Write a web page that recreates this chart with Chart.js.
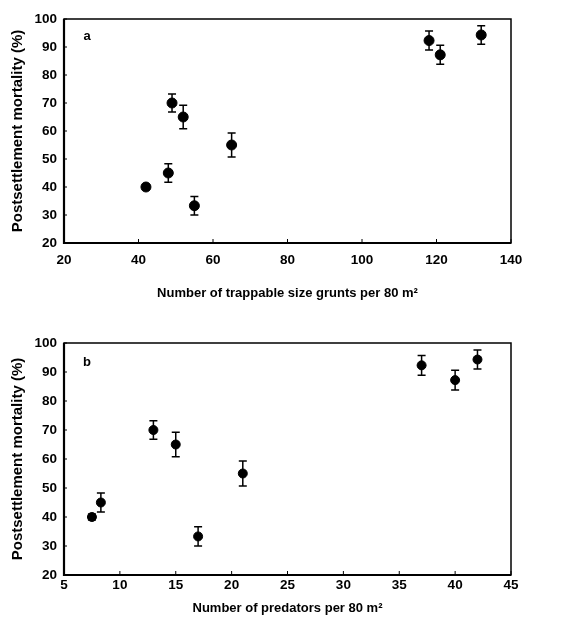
<!DOCTYPE html>
<html>
<head>
<meta charset="utf-8">
<script src="https://cdn.jsdelivr.net/npm/chart.js@4/dist/chart.umd.min.js"></script>
<style>
  html, body { margin: 0; padding: 0; background: #fff; }
  .panel { position: relative; width: 563px; }
  canvas { display: block; }
</style>
</head>
<body>
<div class="panel"><canvas id="chart-a" width="563" height="320"></canvas></div>
<div class="panel"><canvas id="chart-b" width="563" height="307"></canvas></div>
<script>
// Panel a: trappable size grunts
const gruntsX = [42, 48, 49, 52, 55, 65, 118, 121, 132];
// Panel b: predators
const predatorsX = [7.5, 8.3, 13, 15, 17, 21, 37, 40, 42];
// shared mortality values (%) and standard errors
const mortality = [40, 45, 70, 65, 33.3, 55, 92.3, 87.2, 94.3];
const mortalityErr = [1, 3.3, 3.2, 4.2, 3.3, 4.3, 3.4, 3.4, 3.3];

const yTitle = 'Postsettlement mortality (%)';
const titleA = 'Number of trappable size grunts per 80 m\u00B2';
const titleB = 'Number of predators per 80 m\u00B2';

const FONT = '"Liberation Sans", Arial, sans-serif';

// error bars, box frame, inner ticks and panel letter
const decorPlugin = {
  id: 'decor',
  beforeDatasetsDraw(chart) {
    const ctx = chart.ctx;
    const xs = chart.scales.x, ys = chart.scales.y;
    const errs = chart.options.plugins.decor.errors;
    const pts = chart.data.datasets[0].data;
    ctx.save();
    ctx.strokeStyle = '#000';
    ctx.lineWidth = 1.5;
    pts.forEach((p, i) => {
      const px = xs.getPixelForValue(p.x);
      const top = ys.getPixelForValue(p.y + errs[i]);
      const bot = ys.getPixelForValue(p.y - errs[i]);
      ctx.beginPath();
      ctx.moveTo(px, top); ctx.lineTo(px, bot);
      ctx.moveTo(px - 4, top); ctx.lineTo(px + 4, top);
      ctx.moveTo(px - 4, bot); ctx.lineTo(px + 4, bot);
      ctx.stroke();
    });
    ctx.restore();
  },
  afterDraw(chart) {
    const ctx = chart.ctx;
    const a = chart.chartArea;
    const xs = chart.scales.x, ys = chart.scales.y;
    ctx.save();
    ctx.strokeStyle = '#000';
    // inner ticks
    ctx.lineWidth = 1;
    ctx.beginPath();
    xs.ticks.forEach(t => {
      const px = xs.getPixelForValue(t.value);
      ctx.moveTo(px, a.bottom); ctx.lineTo(px, a.bottom - 4);
    });
    ys.ticks.forEach(t => {
      const py = ys.getPixelForValue(t.value);
      ctx.moveTo(a.left, py); ctx.lineTo(a.left + 3, py);
    });
    ctx.stroke();
    // frame
    ctx.lineWidth = 1.5;
    ctx.strokeRect(a.left, a.top, a.right - a.left, a.bottom - a.top);
    ctx.lineWidth = 2.2;
    ctx.beginPath();
    ctx.moveTo(a.left, a.top); ctx.lineTo(a.left, a.bottom); ctx.lineTo(a.right, a.bottom);
    ctx.stroke();
    // panel letter
    const opt = chart.options.plugins.decor;
    ctx.fillStyle = '#000';
    ctx.font = 'bold 13px ' + FONT;
    ctx.textAlign = 'center';
    ctx.textBaseline = 'middle';
    ctx.fillText(opt.letter, a.left + 23, a.top + opt.letterDy);
    ctx.restore();
  }
};

function makeChart(id, xVals, cfg) {
  const canvas = document.getElementById(id);
  const points = xVals.map((x, i) => ({ x: x, y: mortality[i] }));
  return new Chart(canvas, {
    type: 'scatter',
    data: {
      datasets: [{
        data: points,
        backgroundColor: '#000',
        borderColor: '#000',
        pointRadius: cfg.radius,
        pointHoverRadius: cfg.radius
      }]
    },
    options: {
      responsive: false,
      animation: false,
      devicePixelRatio: 1,
      layout: { padding: { top: cfg.top, right: 52, left: 0, bottom: 0 } },
      plugins: {
        legend: { display: false },
        tooltip: { enabled: false },
        decor: { errors: mortalityErr, letter: cfg.letter, letterDy: cfg.letterDy }
      },
      scales: {
        x: {
          type: 'linear',
          min: cfg.xMin, max: cfg.xMax,
          grid: { display: false, drawTicks: false },
          border: { display: false },
          ticks: {
            stepSize: cfg.xStep, padding: cfg.xTickPad, color: '#000',
            font: { family: FONT, size: 13.5, weight: 'bold' }
          },
          title: {
            display: true, text: cfg.xTitle, color: '#000',
            font: { family: FONT, size: 13, weight: 'bold' },
            padding: { top: 0, bottom: cfg.xTitlePad }
          },
          afterFit(scale) { scale.height = cfg.xHeight; }
        },
        y: {
          min: 20, max: 100,
          grid: { display: false, drawTicks: false },
          border: { display: false },
          ticks: {
            stepSize: 10, padding: 7, color: '#000',
            font: { family: FONT, size: 13.5, weight: 'bold' }
          },
          title: {
            display: true, text: yTitle, color: '#000',
            font: { family: FONT, size: 15, weight: 'bold' },
            padding: { top: 9, bottom: 0 }
          },
          afterFit(scale) { scale.width = 64; }
        }
      }
    },
    plugins: [decorPlugin]
  });
}

makeChart('chart-a', gruntsX, {
  xMin: 20, xMax: 140, xStep: 20, xTitle: titleA, letter: 'a',
  top: 19, xHeight: 77, xTickPad: 9, xTitlePad: 19, radius: 5, letterDy: 17
});
makeChart('chart-b', predatorsX, {
  xMin: 5, xMax: 45, xStep: 5, xTitle: titleB, letter: 'b',
  top: 23, xHeight: 52, xTickPad: 2, xTitlePad: 11, radius: 4.5, letterDy: 19
});
</script>
</body>
</html>
